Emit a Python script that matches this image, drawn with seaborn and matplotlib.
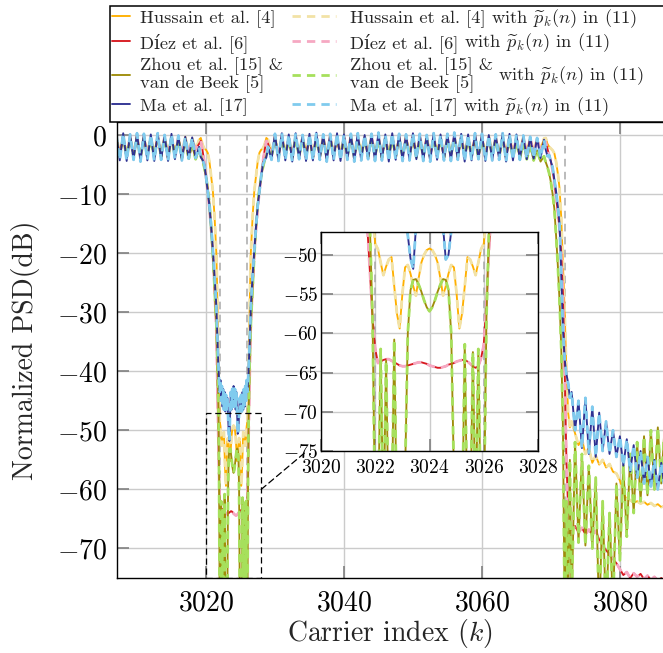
import numpy as np
import pandas as pd
import matplotlib
matplotlib.use("Agg")
import matplotlib.pyplot as plt
import seaborn as sns
from matplotlib.patches import Rectangle, ConnectionPatch

# ---------------- carrier grid (segments of the x axis) ----------------
k_pass_left = np.arange(3007.0, 3019.0, 0.5)
k_edge_left = np.arange(3019.0, 3021.5, 0.25)
k_notch = np.round(np.arange(3021.5, 3026.55, 0.1), 2)
k_edge_right = np.arange(3026.75, 3029.01, 0.25)
k_pass_mid = np.arange(3029.5, 3069.0, 0.5)
k_edge_hi = np.arange(3069.0, 3073.01, 0.25)
k_oob = np.arange(3073.5, 3087.0, 0.5)
carrier = np.concatenate([k_pass_left, k_edge_left, k_notch, k_edge_right,
                          k_pass_mid, k_edge_hi, k_oob])

# ---------------- Hussain et al. [4] ----------------
hussain_pass_left = [-0.3, -3.0, -0.2, -3.2, -0.4, -3.1, -0.2, -3.3, -0.3, -3.0, -0.4, -3.2,
                     -0.2, -3.1, -0.3, -3.3, -0.2, -3.0, -0.4, -3.2, -0.3, -3.0, -0.5, -2.5]
hussain_edge_left = [-0.8, -0.5, -1.6, -2.3, -2.5, -3.0, -4.5, -7.0, -9.5, -14.0]
hussain_notch = [-20.0, -25.0, -31.0, -38.0, -45.0, -48.6, -49.3, -51.0, -52.6, -51.5,
                 -50.6, -50.3, -54.0, -57.5, -59.4, -55.0, -51.6, -51.3, -52.4, -54.0,
                 -55.2, -53.0, -51.0, -50.0, -49.4, -49.2, -49.4, -50.0, -51.0, -53.0,
                 -55.2, -54.0, -52.4, -51.3, -51.6, -55.0, -59.4, -57.5, -54.0, -50.3,
                 -50.6, -51.5, -52.6, -51.0, -49.3, -48.6, -45.0, -38.0, -31.0, -25.0,
                 -20.0]
hussain_edge_right = [-14.0, -9.5, -7.0, -4.5, -3.0, -2.5, -2.3, -1.6, -0.5, -0.8]
hussain_pass_mid = [-3.1, -0.3, -3.2, -0.2, -3.0, -0.4, -3.3, -0.2, -3.1, -0.3,
                    -3.0, -0.4, -3.2, -0.2, -3.1, -0.3, -3.3, -0.2, -3.0, -0.4,
                    -3.2, -0.3, -3.1, -0.2, -3.3, -0.4, -3.0, -0.3, -3.2, -0.2,
                    -3.1, -0.4, -3.3, -0.3, -3.0, -0.2, -3.2, -0.4, -3.1, -0.3,
                    -3.0, -0.2, -3.3, -0.4, -3.1, -0.3, -3.2, -0.2, -3.0, -0.3,
                    -3.3, -0.4, -3.1, -0.2, -3.2, -0.3, -3.0, -0.4, -3.1, -0.2,
                    -3.3, -0.3, -3.2, -0.2, -3.0, -0.4, -3.1, -0.3, -3.2, -0.2,
                    -3.0, -0.4, -3.1, -0.3, -3.0, -0.5, -2.8, -0.6, -2.4]
hussain_edge_hi = [-0.6, -0.5, -1.5, -2.0, -2.3, -2.6, -3.1, -4.5, -6.5, -9.0, -14.0,
                   -22.0, -30.0, -40.0, -47.0, -49.5, -48.5]
hussain_oob = [-50.5, -52.5, -51.5, -54.0, -53.0, -55.5, -54.3, -55.8, -55.0, -56.3,
               -55.7, -57.0, -57.3, -58.5, -60.5, -61.8, -61.8, -62.3, -62.0, -62.4,
               -62.1, -62.6, -62.3, -62.8, -62.5, -63.0, -62.8]

# ---------------- Díez et al. [6] ----------------
diez_pass_left = [-0.5, -3.2, -0.4, -3.4, -0.6, -3.3, -0.4, -3.5, -0.5, -3.2, -0.6, -3.4,
                  -0.4, -3.3, -0.5, -3.5, -0.4, -3.2, -0.6, -3.4, -0.7, -3.1, -0.9, -2.4]
diez_edge_left = [-1.5, -1.0, -2.6, -4.5, -7.0, -9.5, -12.5, -16.0, -20.0, -26.0]
diez_notch = [-33.0, -39.0, -46.0, -52.0, -58.0, -62.0, -63.8, -63.6, -63.4, -63.3,
              -63.3, -63.5, -63.7, -63.9, -64.1, -64.2, -64.2, -64.1, -64.0, -63.9,
              -63.8, -63.7, -63.7, -63.8, -63.9, -64.1, -64.2, -64.3, -64.4, -64.4,
              -64.3, -64.2, -64.0, -63.9, -63.8, -63.6, -63.5, -63.4, -63.4, -63.6,
              -63.9, -64.2, -64.4, -64.2, -63.2, -61.5, -56.0, -49.0, -43.0, -37.0,
              -32.0]
diez_edge_right = [-26.0, -20.0, -16.0, -12.5, -9.5, -7.0, -4.5, -2.6, -1.0, -1.5]
diez_pass_mid = [-3.3, -0.5, -3.4, -0.4, -3.2, -0.6, -3.5, -0.4, -3.3, -0.5,
                 -3.2, -0.6, -3.4, -0.4, -3.3, -0.5, -3.5, -0.4, -3.2, -0.6,
                 -3.4, -0.5, -3.3, -0.4, -3.5, -0.6, -3.2, -0.5, -3.4, -0.4,
                 -3.3, -0.6, -3.5, -0.5, -3.2, -0.4, -3.4, -0.6, -3.3, -0.5,
                 -3.2, -0.4, -3.5, -0.6, -3.3, -0.5, -3.4, -0.4, -3.2, -0.5,
                 -3.5, -0.6, -3.3, -0.4, -3.4, -0.5, -3.2, -0.6, -3.3, -0.4,
                 -3.5, -0.5, -3.4, -0.4, -3.2, -0.6, -3.3, -0.5, -3.4, -0.4,
                 -3.2, -0.6, -3.3, -0.5, -3.1, -0.7, -2.9, -0.9, -2.6]
diez_edge_hi = [-1.8, -1.2, -2.3, -3.5, -4.5, -6.0, -8.0, -10.5, -13.0, -16.0, -20.0,
                -27.0, -40.0, -55.0, -63.5, -66.0, -66.8]
diez_oob = [-66.2, -67.3, -66.5, -67.6, -66.8, -67.7, -67.0, -68.5, -69.5, -70.3,
            -71.0, -71.8, -72.5, -73.5, -74.5, -74.0, -75.0, -74.2, -74.8, -74.3,
            -75.2, -74.6, -75.3, -74.8, -75.4, -75.0, -75.5]

# ---------------- Zhou et al. [15] & van de Beek [5] ----------------
zhou_pass_left = [-0.6, -3.5, -0.5, -3.7, -0.7, -3.6, -0.5, -3.8, -0.6, -3.5, -0.7, -3.7,
                  -0.5, -3.6, -0.6, -3.8, -0.5, -3.5, -0.8, -3.9, -1.2, -4.0, -1.8, -4.1]
zhou_edge_left = [-2.5, -3.5, -4.3, -5.5, -7.0, -9.0, -11.5, -15.5, -20.5, -26.0]
zhou_notch = [-32.0, -35.5, -40.0, -46.0, -58.0, -85.0, -85.0, -62.0, -85.0, -63.5,
              -85.0, -85.0, -60.8, -85.0, -85.0, -85.0, -78.0, -60.0, -54.5, -53.2,
              -53.1, -53.8, -54.7, -55.8, -56.7, -57.2, -56.7, -55.8, -54.7, -53.8,
              -53.1, -53.2, -54.5, -60.0, -78.0, -85.0, -85.0, -85.0, -61.4, -85.0,
              -85.0, -62.4, -85.0, -62.0, -85.0, -85.0, -58.0, -46.0, -40.0, -35.5,
              -32.0]
zhou_edge_right = [-26.0, -20.5, -15.5, -11.5, -9.0, -7.0, -5.5, -4.3, -3.5, -2.5]
zhou_pass_mid = [-3.6, -0.7, -3.7, -0.6, -3.5, -0.8, -3.8, -0.6, -3.6, -0.7,
                 -3.5, -0.8, -3.7, -0.6, -3.6, -0.7, -3.8, -0.6, -3.5, -0.8,
                 -3.7, -0.7, -3.6, -0.6, -3.8, -0.8, -3.5, -0.7, -3.7, -0.6,
                 -3.6, -0.8, -3.8, -0.7, -3.5, -0.6, -3.7, -0.8, -3.6, -0.7,
                 -3.5, -0.6, -3.8, -0.8, -3.6, -0.7, -3.7, -0.6, -3.5, -0.7,
                 -3.8, -0.8, -3.6, -0.6, -3.7, -0.7, -3.5, -0.8, -3.6, -0.6,
                 -3.8, -0.7, -3.7, -0.6, -3.5, -0.8, -3.6, -0.7, -3.7, -0.9,
                 -3.8, -1.1, -3.9, -1.4, -4.1, -1.9, -4.3, -2.6, -4.5]
zhou_edge_hi = [-3.6, -4.6, -5.4, -6.5, -8.0, -10.0, -12.5, -17.0, -22.0, -28.0, -36.0,
                -50.0, -82.0, -62.0, -82.0, -55.0, -80.0]
zhou_oob = [-52.0, -69.0, -54.0, -69.5, -56.0, -70.0, -58.0, -82.0, -62.0, -82.0,
            -64.0, -80.0, -59.0, -72.0, -56.0, -68.0, -54.0, -64.0, -52.0, -62.0,
            -51.0, -61.0, -50.0, -60.0, -49.5, -59.0, -49.0]

# ---------------- Ma et al. [17] ----------------
ma_pass_left = [0.2, -4.3, 0.3, -4.4, 0.1, -4.2, 0.3, -4.5, 0.2, -4.3, 0.1, -4.4,
                0.3, -4.2, 0.0, -4.4, 0.2, -4.1, -0.1, -4.3, -0.3, -4.0, -0.4, -3.9]
ma_edge_left = [-2.0, -3.8, -4.2, -5.0, -7.0, -9.5, -12.0, -15.5, -19.5, -24.0]
ma_notch = [-29.0, -32.5, -36.0, -39.0, -41.5, -43.5, -41.5, -45.0, -42.5, -46.0,
            -43.0, -46.5, -43.5, -46.8, -44.0, -46.5, -44.5, -47.5, -50.5, -51.8,
            -46.5, -43.5, -46.5, -43.0, -46.0, -42.5, -46.0, -43.0, -46.5, -43.5,
            -46.5, -50.6, -50.0, -47.0, -44.5, -46.5, -44.0, -46.8, -43.5, -46.5,
            -43.0, -46.0, -42.5, -45.0, -41.5, -43.5, -41.5, -39.0, -36.0, -32.5,
            -29.0]
ma_edge_right = [-24.0, -19.5, -15.5, -12.0, -9.5, -7.0, -5.0, -4.2, -3.8, -2.0]
ma_pass_mid = [-4.2, 0.2, -4.4, 0.3, -4.3, 0.1, -4.5, 0.3, -4.1, 0.0,
               -4.4, 0.2, -4.3, 0.4, -4.2, 0.1, -4.5, 0.2, -4.3, 0.3,
               -4.4, 0.1, -4.2, 0.2, -4.5, 0.3, -4.3, 0.0, -4.1, 0.2,
               -4.4, 0.4, -4.3, 0.1, -4.5, 0.3, -4.2, 0.2, -4.4, 0.1,
               -4.3, 0.3, -4.1, 0.2, -4.4, 0.0, -4.5, 0.3, -4.2, 0.1,
               -4.3, 0.2, -4.4, 0.4, -4.2, 0.2, -4.5, 0.1, -4.3, 0.3,
               -4.1, 0.2, -4.4, 0.0, -4.3, 0.1, -4.2, 0.3, -4.5, 0.2,
               -4.3, 0.1, -4.2, -0.1, -4.1, -0.3, -4.0, -0.5, -3.9]
ma_edge_hi = [-0.8, -2.5, -3.6, -3.4, -4.5, -5.5, -7.5, -9.5, -12.0, -15.0, -24.0,
              -33.0, -38.0, -40.5, -42.0, -44.5, -43.5]
ma_oob = [-50.0, -45.0, -53.0, -44.5, -54.0, -46.0, -54.5, -47.0, -53.5, -48.5,
          -54.0, -50.0, -54.5, -51.0, -56.0, -51.5, -57.0, -52.5, -58.0, -53.5,
          -59.0, -54.5, -59.5, -55.0, -60.0, -55.5, -60.0]

band_edges = [3022, 3026, 3072]

# ---------------- long table ----------------
segments = {
    "Hussain": [hussain_pass_left, hussain_edge_left, hussain_notch, hussain_edge_right,
                hussain_pass_mid, hussain_edge_hi, hussain_oob],
    "Diez": [diez_pass_left, diez_edge_left, diez_notch, diez_edge_right,
             diez_pass_mid, diez_edge_hi, diez_oob],
    "Zhou": [zhou_pass_left, zhou_edge_left, zhou_notch, zhou_edge_right,
             zhou_pass_mid, zhou_edge_hi, zhou_oob],
    "Ma": [ma_pass_left, ma_edge_left, ma_notch, ma_edge_right,
           ma_pass_mid, ma_edge_hi, ma_oob],
}
frames = []
for m, segs in segments.items():
    vals = np.concatenate([np.asarray(s, dtype=float) for s in segs])
    frames.append(pd.DataFrame({"carrier": carrier, "psd": vals, "method": m}))
df = pd.concat(frames, ignore_index=True)

solid_color = {"Hussain": "#FFB000", "Diez": "#D71920", "Zhou": "#9E8C0A", "Ma": "#2E3192"}
dash_color = {"Hussain": "#F2E2A6", "Diez": "#F6A8C2", "Zhou": "#A6E05C", "Ma": "#80CBEE"}
method_label = {"Hussain": "Hussain et al. [4]", "Diez": "Díez et al. [6]",
                "Zhou": "Zhou et al. [15] &\nvan de Beek [5]", "Ma": "Ma et al. [17]"}
with_txt = r"with $\widetilde{p}_k(n)$ in (11)"

# ---------------- style ----------------
sns.set_theme(style="whitegrid")
plt.rcParams["font.family"] = ["cmr10", "DejaVu Serif"]
plt.rcParams["mathtext.fontset"] = "cm"
plt.rcParams["axes.formatter.use_mathtext"] = True
plt.rcParams["axes.unicode_minus"] = True

W, H = 663, 653
fig = plt.figure(figsize=(W / 100, H / 100), dpi=100)
fig.patch.set_facecolor("white")

ax = fig.add_axes([117 / W, 75 / H, (W - 117) / W, (578 - 122) / H])
axins = fig.add_axes([321 / W, (H - 451) / H, 217 / W, 219 / H])

DASH = (0, (3.0, 2.2))


def draw(a):
    a.vlines(band_edges, -80, 0, colors="#a8a8a8", linestyles=(0, (5, 3.5)), lw=1.1, zorder=1.5)
    lines = {}
    for m in segments:
        d = df[df["method"] == m]
        sns.lineplot(data=d, x="carrier", y="psd", ax=a, color=solid_color[m], lw=1.35,
                     estimator=None, sort=False, zorder=2)
        lines[(m, "s")] = a.get_lines()[-1]
        sns.lineplot(data=d, x="carrier", y="psd", ax=a, color=dash_color[m], lw=2.0,
                     linestyle=DASH, estimator=None, sort=False, zorder=2)
        lines[(m, "d")] = a.get_lines()[-1]
    return lines


main_lines = draw(ax)
draw(axins)

grid_kw = dict(color="#cbcbcb", lw=1.0)
for a in (ax, axins):
    a.set_facecolor("white")
    a.grid(True, **grid_kw)
    a.set_axisbelow(True)
    a.set_xlabel("")
    a.set_ylabel("")
    for s in a.spines.values():
        s.set_color("black")
        s.set_linewidth(1.0)

ax.set_xlim(3007.1, 3086.25)
ax.set_ylim(-75, 2.2)
ax.set_xticks([3020, 3040, 3060, 3080])
ax.set_yticks([-70, -60, -50, -40, -30, -20, -10, 0])
ax.spines["right"].set_visible(False)
ax.tick_params(axis="both", which="major", direction="in", length=8.5, width=1.2,
               color="#808080", labelsize=20, labelcolor="black",
               bottom=True, left=True, top=True, right=False)
ax.tick_params(axis="y", pad=7)
ax.tick_params(axis="x", pad=9)
ax.set_xlabel("Carrier index ($k$)", fontsize=20, labelpad=0)
ax.set_ylabel("Normalized PSD(dB)", fontsize=20, labelpad=12)

inset_x = (3020, 3028)
inset_y = (-75, -47.1)
axins.set_xlim(*inset_x)
axins.set_ylim(*inset_y)
axins.set_xticks([3020, 3022, 3024, 3026, 3028])
axins.set_yticks([-75, -70, -65, -60, -55, -50])
axins.tick_params(axis="both", which="major", direction="in", length=8.5, width=1.2,
                  color="#808080", labelsize=14, labelcolor="black",
                  bottom=True, left=True, top=True, right=True)
axins.tick_params(axis="y", pad=2)
axins.tick_params(axis="x", pad=6)

# zoom box and connector
ax.add_patch(Rectangle((inset_x[0], inset_y[0]), inset_x[1] - inset_x[0], inset_y[1] - inset_y[0],
                       fill=False, ec="black", lw=0.9, ls=(0, (5, 3)), zorder=4))
con = ConnectionPatch(xyA=(inset_x[1], -60), coordsA=ax.transData,
                      xyB=(-0.065, 0.0), coordsB=axins.transAxes,
                      color="black", lw=0.9, ls=(0, (5, 3)))
fig.add_artist(con)

# legend box
fig.add_artist(Rectangle((110 / W, 1 - 122 / H), 0.95, (122 - 6) / H, transform=fig.transFigure,
                         facecolor="white", edgecolor="black", lw=1.1, zorder=3))
order = ["Hussain", "Diez", "Zhou", "Ma"]
LEG_FS = 13.3
leg_kw = dict(frameon=False, fontsize=LEG_FS, borderpad=0, borderaxespad=0, labelspacing=0.27,
              loc="upper left", handleheight=0.7)
leg1 = fig.legend([main_lines[(m, "s")] for m in order], [method_label[m] for m in order],
                  bbox_to_anchor=(112 / W, 1 - 10 / H), handlelength=0.95, handletextpad=0.55, **leg_kw)
leg2 = fig.legend([main_lines[(m, "d")] for m in order], [method_label[m] for m in order],
                  bbox_to_anchor=(292 / W, 1 - 10 / H), handlelength=2.4, handletextpad=0.75, **leg_kw)
for lg in (leg1, leg2):
    lg.set_zorder(6)
    for t in lg.get_texts():
        t.set_linespacing(1.0)

fig.canvas.draw()
r = fig.canvas.get_renderer()
for t in leg2.get_texts():
    bb = t.get_window_extent(r)
    fig.text((bb.x1 + 5) / fig.bbox.width, (bb.y0 + bb.y1) / 2 / fig.bbox.height, with_txt,
             fontsize=LEG_FS, ha="left", va="center", zorder=7)

fig.savefig("out.png", dpi=100, facecolor="white")
